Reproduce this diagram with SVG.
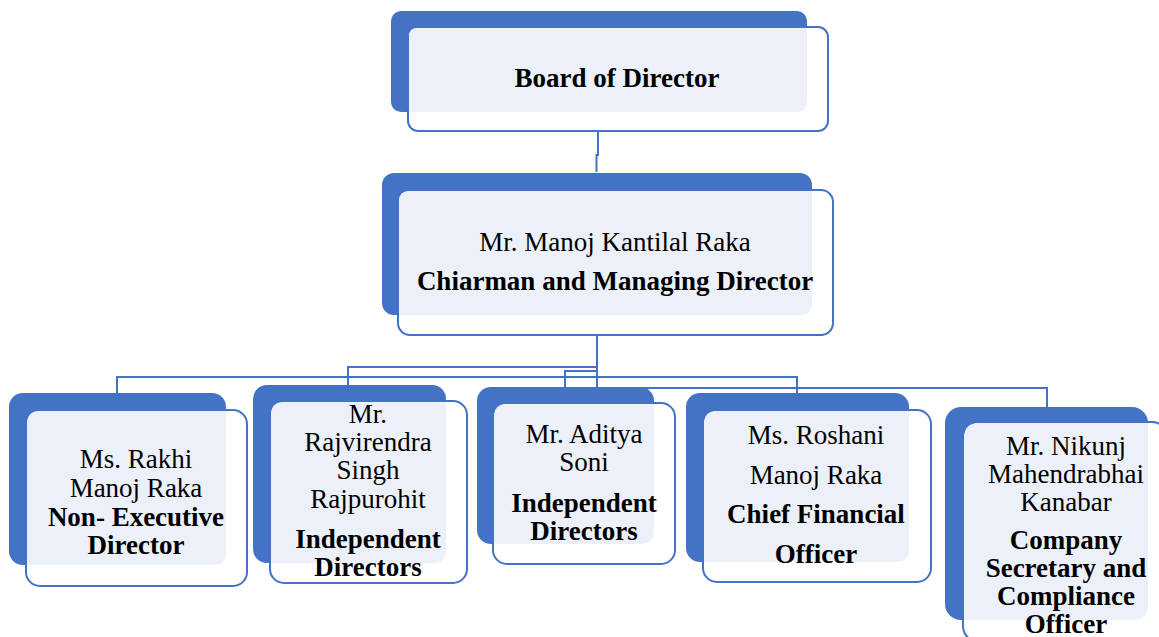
<svg xmlns="http://www.w3.org/2000/svg" width="1159" height="637" viewBox="0 0 1159 637">
<style>
.back{fill:#4472C4}
.front{fill:#FFFFFF;stroke:#4472C4;stroke-width:2}
.light{fill:#ECF0F9}
.conn{fill:none;stroke:#4472C4;stroke-width:2}
.t{font-size:27px;fill:#000;text-anchor:middle}
.b{font-weight:bold}
</style>
<rect width="1159" height="637" fill="#FFFFFF"/>
<g id="connectors">
<path class="conn" d="M598,131 V155 H596.5 V172"/>
<path class="conn" d="M597,333 V390"/>
<path class="conn" d="M348,388 V367 H597"/>
<path class="conn" d="M565,388 V371 H597"/>
<path class="conn" d="M117,395 V377 H797 V394"/>
<path class="conn" d="M597,388 H1047 V408"/>
</g>
<g id="board">
<rect class="back" x="391" y="11" width="416" height="101" rx="10"/>
<rect class="front" x="408" y="27" width="420" height="104" rx="10"/>
<path class="light" d="M409,36 Q409,28 417,28 H807 V102 Q807,112 797,112 H409 Z"/>
<text class="t b" font-family="Liberation Serif" x="617" y="87">Board of Director</text>
</g>
<g id="cmd">
<rect class="back" x="382" y="173" width="430" height="142" rx="12"/>
<rect class="front" x="398" y="190" width="435" height="145" rx="12"/>
<path class="light" d="M399,201 Q399,191 409,191 H812 V303 Q812,315 800,315 H399 Z"/>
<text class="t" font-family="Liberation Serif" x="615" y="251">Mr. Manoj Kantilal Raka</text>
<text class="t b" font-family="Liberation Serif" x="615" y="290">Chiarman and Managing Director</text>
</g>
<g id="rakhi">
<rect class="back" x="9" y="393" width="217" height="172" rx="14"/>
<rect class="front" x="26" y="410" width="221" height="176" rx="14"/>
<path class="light" d="M27,424 Q27,411 40,411 H226 V552 Q226,565 213,565 H27 Z"/>
<text class="t" font-family="Liberation Serif" x="136" y="468">Ms. Rakhi</text>
<text class="t" font-family="Liberation Serif" x="136" y="497">Manoj Raka</text>
<text class="t b" font-family="Liberation Serif" x="136" y="526">Non- Executive</text>
<text class="t b" font-family="Liberation Serif" x="136" y="554">Director</text>
</g>
<g id="rajvirendra">
<rect class="back" x="253" y="385" width="193" height="178" rx="14"/>
<rect class="front" x="270" y="401" width="197" height="182" rx="14"/>
<path class="light" d="M271,415 Q271,402 284,402 H446 V550 Q446,563 433,563 H271 Z"/>
<text class="t" font-family="Liberation Serif" x="368" y="423">Mr.</text>
<text class="t" font-family="Liberation Serif" x="368" y="451">Rajvirendra</text>
<text class="t" font-family="Liberation Serif" x="368" y="479">Singh</text>
<text class="t" font-family="Liberation Serif" x="368" y="508">Rajpurohit</text>
<text class="t b" font-family="Liberation Serif" x="368" y="548">Independent</text>
<text class="t b" font-family="Liberation Serif" x="368" y="576">Directors</text>
</g>
<g id="aditya">
<rect class="back" x="477" y="387" width="177" height="157" rx="14"/>
<rect class="front" x="493" y="403" width="182" height="161" rx="14"/>
<path class="light" d="M494,417 Q494,404 507,404 H654 V531 Q654,544 641,544 H494 Z"/>
<text class="t" font-family="Liberation Serif" x="584" y="443">Mr. Aditya</text>
<text class="t" font-family="Liberation Serif" x="584" y="471">Soni</text>
<text class="t b" font-family="Liberation Serif" x="584" y="512">Independent</text>
<text class="t b" font-family="Liberation Serif" x="584" y="540">Directors</text>
</g>
<g id="roshani">
<rect class="back" x="686" y="393" width="223" height="169" rx="14"/>
<rect class="front" x="703" y="410" width="228" height="172" rx="14"/>
<path class="light" d="M704,424 Q704,411 717,411 H909 V549 Q909,562 896,562 H704 Z"/>
<text class="t" font-family="Liberation Serif" x="816" y="444">Ms. Roshani</text>
<text class="t" font-family="Liberation Serif" x="816" y="484">Manoj Raka</text>
<text class="t b" font-family="Liberation Serif" x="816" y="523">Chief Financial</text>
<text class="t b" font-family="Liberation Serif" x="816" y="563">Officer</text>
</g>
<g id="nikunj">
<rect class="back" x="945" y="407" width="203" height="213" rx="16"/>
<rect class="front" x="963" y="422" width="205" height="220" rx="16"/>
<path class="light" d="M964,438 Q964,423 979,423 H1148 V605 Q1148,620 1133,620 H964 Z"/>
<text class="t" font-family="Liberation Serif" x="1066" y="455">Mr. Nikunj</text>
<text class="t" font-family="Liberation Serif" x="1066" y="483">Mahendrabhai</text>
<text class="t" font-family="Liberation Serif" x="1066" y="511">Kanabar</text>
<text class="t b" font-family="Liberation Serif" x="1066" y="549">Company</text>
<text class="t b" font-family="Liberation Serif" x="1066" y="577">Secretary and</text>
<text class="t b" font-family="Liberation Serif" x="1066" y="605">Compliance</text>
<text class="t b" font-family="Liberation Serif" x="1066" y="633">Officer</text>
</g>
</svg>
